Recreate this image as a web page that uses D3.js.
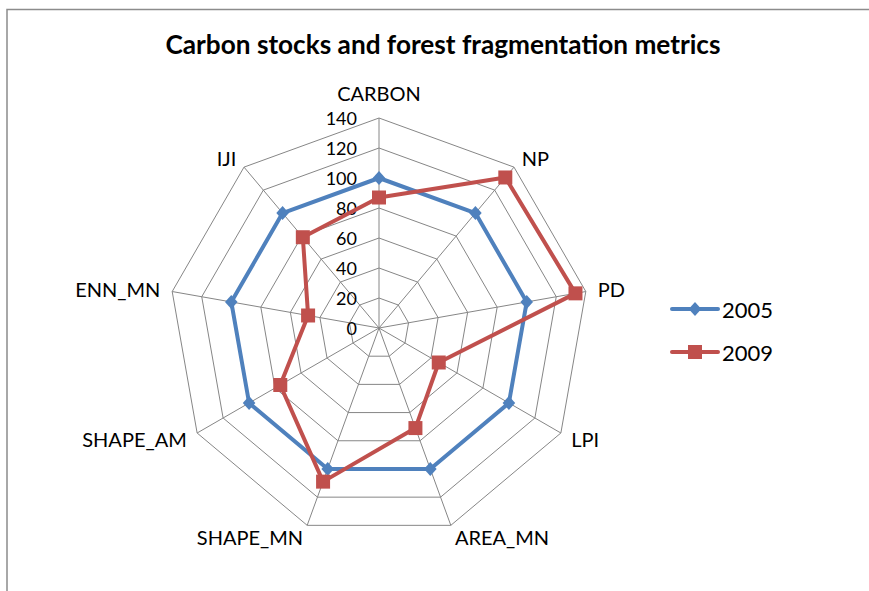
<!DOCTYPE html>
<html>
<head>
<meta charset="utf-8">
<script src="https://cdn.jsdelivr.net/npm/d3@7"></script>
<style>
  html, body { margin: 0; padding: 0; background: #fff; }
  svg { display: block; }
  text { font-family: Lato, "Open Sans", sans-serif; fill: #000; }
</style>
</head>
<body>
<svg id="chart" width="869" height="591"></svg>
<script>
// Radar chart data (values normalised so that 2005 = 100)
const categories = ["CARBON", "NP", "PD", "LPI", "AREA_MN", "SHAPE_MN", "SHAPE_AM", "ENN_MN", "IJI"];
const values2005 = [100, 100, 100, 100, 100, 100, 100, 100, 100];
const values2009 = [87, 131, 133, 46, 71, 109, 76, 48, 79];
const tickValues = [0, 20, 40, 60, 80, 100, 120, 140];
const seriesNames = ["2005", "2009"];
const seriesColors = ["#4F81BD", "#C0504D"];

const svg = d3.select("#chart");
const cx = 379, cy = 328, R = 210;

// outer frame
svg.append("rect")
  .attr("x", 7).attr("y", 9.5)
  .attr("width", 900).attr("height", 620)
  .attr("fill", "#fff")
  .attr("stroke", "#8c8c8c").attr("stroke-width", 1.5);

// title
svg.append("text")
  .attr("x", 443).attr("y", 44)
  .attr("text-anchor", "middle").attr("dominant-baseline", "central")
  .attr("font-weight", "bold").attr("font-size", 26.2)
  .text("Carbon stocks and forest fragmentation metrics");

const r = d3.scaleLinear().domain([0, 140]).range([0, R]);
const angle = d3.scalePoint().domain(categories).range([0, 2 * Math.PI * (categories.length - 1) / categories.length]);

const g = svg.append("g").attr("transform", `translate(${cx},${cy})`);

const pt = (a, rad) => [rad * Math.sin(a), -rad * Math.cos(a)];

// grid rings
g.selectAll("polygon.ring")
  .data(tickValues.filter(t => t > 0))
  .join("polygon")
  .attr("class", "ring")
  .attr("points", t => categories.map(c => pt(angle(c), r(t)).join(",")).join(" "))
  .attr("fill", "none").attr("stroke", "#868686").attr("stroke-width", 1);

// spokes
g.selectAll("line.spoke")
  .data(categories)
  .join("line")
  .attr("class", "spoke")
  .attr("x1", 0).attr("y1", 0)
  .attr("x2", c => pt(angle(c), r(140))[0])
  .attr("y2", c => pt(angle(c), r(140))[1])
  .attr("stroke", "#868686").attr("stroke-width", 1);

// value axis labels
g.selectAll("text.tick")
  .data(tickValues)
  .join("text")
  .attr("class", "tick")
  .attr("x", -22).attr("y", t => -r(t))
  .attr("text-anchor", "end").attr("dominant-baseline", "central")
  .attr("font-size", 18)
  .text(t => t);

// category labels
g.selectAll("text.cat")
  .data(categories)
  .join("text")
  .attr("class", "cat")
  .each(function (c) {
    const a = angle(c);
    const s = Math.sin(a);
    const off = Math.abs(s) < 0.1 ? 25 : 12;
    const [x, y] = pt(a, r(140) + off);
    d3.select(this)
      .attr("x", x).attr("y", y)
      .attr("text-anchor", s > 0.1 ? "start" : (s < -0.1 ? "end" : "middle"))
      .attr("dominant-baseline", "central");
  })
  .attr("font-size", 20)
  .text(c => c);

// series
const line = d3.lineRadial()
  .angle(d => angle(d.cat))
  .radius(d => r(d.v))
  .curve(d3.curveLinearClosed);

const diamond = s => `M0,${-s}L${s * 0.9},0L0,${s}L${-s * 0.9},0Z`;
const square = s => `M${-s},${-s}H${s}V${s}H${-s}Z`;
const markers = [diamond(7), square(7)];

[values2005, values2009].forEach((vals, i) => {
  const data = categories.map((c, k) => ({ cat: c, v: vals[k] }));
  g.append("path")
    .datum(data)
    .attr("d", line)
    .attr("fill", "none")
    .attr("stroke", seriesColors[i]).attr("stroke-width", 4)
    .attr("stroke-linejoin", "round");
});
[values2005, values2009].forEach((vals, i) => {
  const data = categories.map((c, k) => ({ cat: c, v: vals[k] }));
  g.selectAll(null)
    .data(data)
    .join("path")
    .attr("transform", d => `translate(${pt(angle(d.cat), r(d.v))})`)
    .attr("d", markers[i])
    .attr("fill", seriesColors[i]);
});

// legend
const legend = svg.append("g");
const legendY = [309, 352];
seriesNames.forEach((name, i) => {
  const y = legendY[i];
  legend.append("line")
    .attr("x1", 672).attr("x2", 718).attr("y1", y).attr("y2", y)
    .attr("stroke", seriesColors[i]).attr("stroke-width", 4)
    .attr("stroke-linecap", "round");
  legend.append("path")
    .attr("transform", `translate(695,${y})`)
    .attr("d", markers[i])
    .attr("fill", seriesColors[i]);
  legend.append("text")
    .attr("x", 722).attr("y", y)
    .attr("dominant-baseline", "central")
    .attr("font-size", 22)
    .text(name);
});
</script>
</body>
</html>
